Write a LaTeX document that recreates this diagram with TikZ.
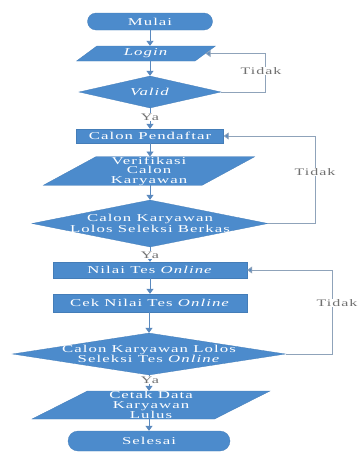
\documentclass[tikz,border=0pt]{standalone}
\usepackage{fontspec}
\usetikzlibrary{shapes.geometric,shapes.misc,arrows.meta}
\newfontfamily\chartfont[FakeStretch=1.6,LetterSpace=10]{Liberation Serif}
\definecolor{flowblue}{HTML}{4C8BCC}
\definecolor{linkblue}{HTML}{5A89BE}
\definecolor{loopgray}{HTML}{8FA3BA}
\definecolor{labelgray}{HTML}{707070}
\begin{document}
\begin{tikzpicture}[x=1pt,y=-1pt,
  base/.style={fill=flowblue, draw=flowblue!90!black, line width=0.3pt, text=white,
    font=\chartfont\fontsize{10.5}{9.5}\selectfont, align=center, inner sep=0pt},
  term/.style={base, rounded rectangle},
  proc/.style={base, rectangle},
  io/.style={base, trapezium, trapezium stretches=true},
  dec/.style={base, diamond},
  dectext/.style={text=white, font=\chartfont\fontsize{10.5}{9.5}\selectfont, align=center, inner sep=0pt},
  lbl/.style={fill=white, text=labelgray, font=\chartfont\fontsize{10}{9.5}\selectfont, inner sep=0.5pt},
  flow/.style={draw=linkblue, line width=0.9pt, -{Triangle[width=7pt,length=5pt]}},
  back/.style={draw=loopgray, line width=0.8pt, -{Triangle[width=7pt,length=5pt,fill=linkblue]}}
]
\useasboundingbox (0,0) rectangle (359,458);

% nodes
\node[term, minimum width=125pt, minimum height=17pt] (mulai) at (150,21.5) {Mulai};
\node[io, minimum width=139pt, minimum height=15pt, trapezium left angle=45, trapezium right angle=135] (login) at (146,53.5) {\textit{Login}};
\node[dec, minimum width=142pt, minimum height=32pt, shape aspect=4.4] (valid) at (150,92) {};
\node[dectext] (validt) at (valid) {\textit{Valid}};
\node[proc, minimum width=147pt, minimum height=14pt] (pendaftar) at (150,136) {Calon Pendaftar};
\node[io, minimum width=212pt, minimum height=28pt, trapezium left angle=37, trapezium right angle=143] (verif) at (149,171) {Verifikasi\\Calon\\Karyawan};
\node[dec, minimum width=236pt, minimum height=47pt, shape aspect=5] (berkas) at (150,223.5) {};
\node[dectext] (berkast) at (berkas) {Calon Karyawan\\Lolos Seleksi Berkas};
\node[proc, minimum width=194pt, minimum height=16pt] (nilai) at (150,270) {Nilai Tes \textit{Online}};
\node[proc, minimum width=194pt, minimum height=18pt] (cek) at (150,303) {Cek Nilai Tes \textit{Online}};
\node[dec, minimum width=273pt, minimum height=42pt, shape aspect=6.5] (tes) at (149,354) {};
\node[dectext] (test) at (tes) {Calon Karyawan Lolos\\Seleksi Tes \textit{Online}};
\node[io, minimum width=238pt, minimum height=28pt, trapezium left angle=37, trapezium right angle=143] (cetak) at (151,405) {Cetak Data\\Karyawan\\Lulus};
\node[term, minimum width=162pt, minimum height=20pt] (selesai) at (149,441) {Selesai};

% main flow
\draw[flow] (mulai.south) -- (mulai.south |- login.north);
\draw[flow] (valid.north |- login.south) -- (valid.north);
\draw[flow] (valid.south) -- (pendaftar.north);
\draw[flow] (pendaftar.south) -- (pendaftar.south |- verif.north);
\draw[flow] (berkas.north |- verif.south) -- (berkas.north);
\draw[flow] (berkas.south) -- (nilai.north);
\draw[flow] (nilai.south) -- (cek.north);
\draw[flow] (cek.south -| tes.north) -- (tes.north);
\draw[flow] (tes.south) -- (tes.south |- cetak.north);
\draw[flow] (selesai.north |- cetak.south) -- (selesai.north);

% loops
\coordinate (c1) at (265,0);
\coordinate (c2) at (315,0);
\coordinate (c3) at (332,0);
\draw[back] (valid.east) -- (valid.east -| c1) -- (login.east -| c1) -- (login.east);
\draw[back] (berkas.east) -- (berkas.east -| c2) -- (pendaftar.east -| c2) -- (pendaftar.east);
\draw[back] (tes.east) -- (tes.east -| c3) -- (nilai.east -| c3) -- (nilai.east);

% labels
\node[lbl] (t1) at (261,71) {Tidak};
\node[lbl] (t2) at (315,172) {Tidak};
\node[lbl] (t3) at (337,303) {Tidak};
\node[lbl] (y1) at (150,117) {Ya};
\node[lbl] (y2) at (150,255) {Ya};
\node[lbl] (y3) at (150,380) {Ya};
\end{tikzpicture}
\end{document}
